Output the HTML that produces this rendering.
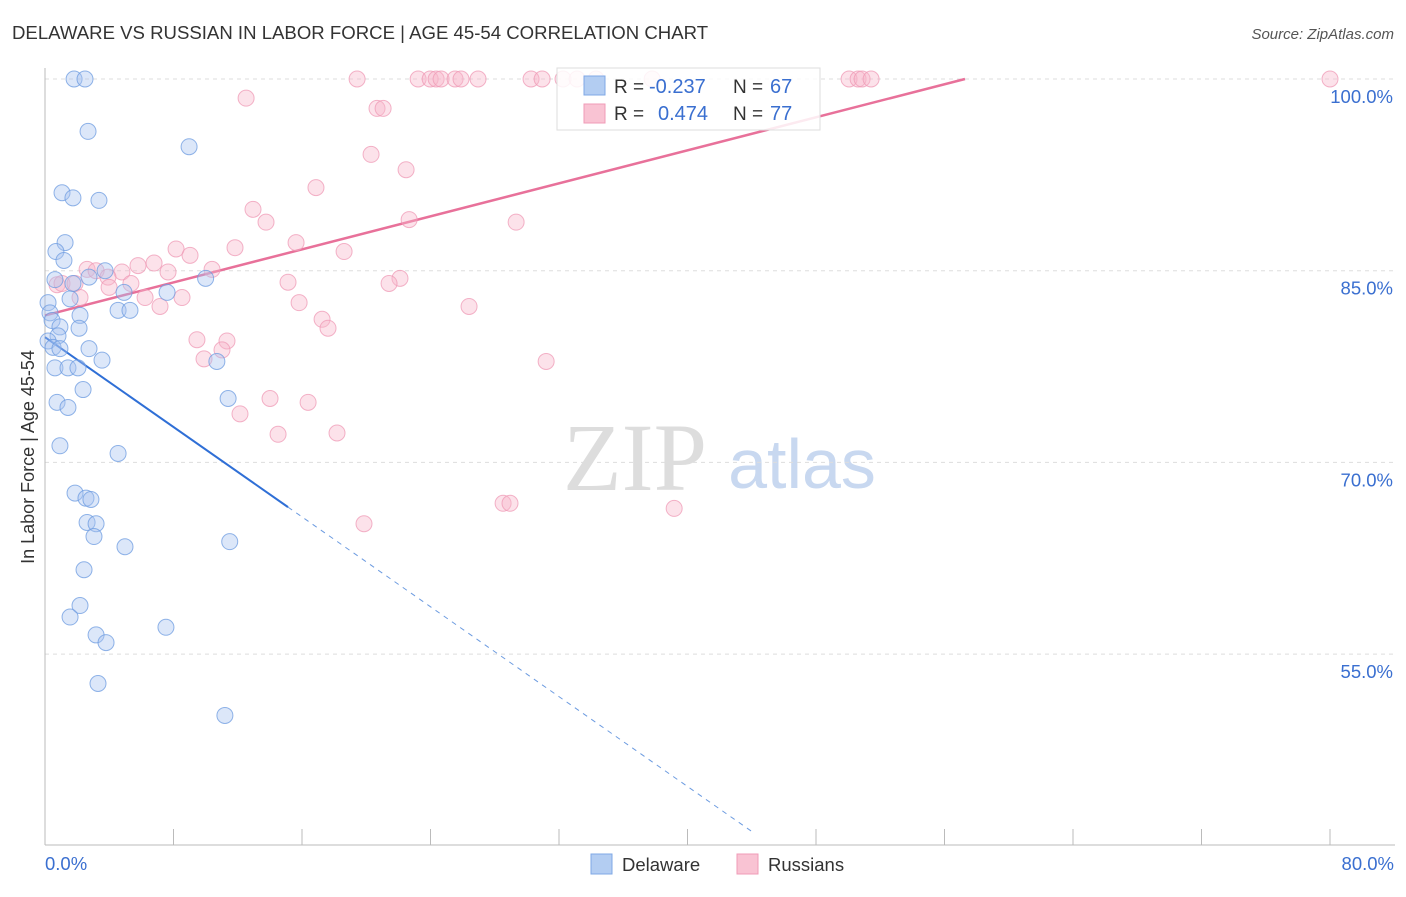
<!DOCTYPE html>
<html><head><meta charset="utf-8"><style>
body{margin:0;background:#fff;font-family:"Liberation Sans",sans-serif}
</style></head><body>
<svg id="chart" width="1406" height="892" xmlns="http://www.w3.org/2000/svg">
<text x="12" y="39" font-size="18.6" fill="#333">DELAWARE VS RUSSIAN IN LABOR FORCE | AGE 45-54 CORRELATION CHART</text>
<text x="1394" y="39" font-size="15" fill="#555" font-style="italic" text-anchor="end">Source: ZipAtlas.com</text>
<text x="34" y="457" font-size="18" fill="#333" text-anchor="middle" transform="rotate(-90 34 457)">In Labor Force | Age 45-54</text>
<g><text x="635" y="490" font-size="96" fill="#ddd" font-family="Liberation Serif,serif" text-anchor="middle">ZIP</text><text x="802" y="488" font-size="70" fill="#c8d8f0" text-anchor="middle">atlas</text></g>
<g id="grid"></g><g id="axes"></g><g id="lines"></g><g id="pts"></g>
<g>
<rect x="557" y="68" width="263" height="62" fill="#fff" fill-opacity="0.85" stroke="#ddd"/>
<rect x="584" y="76" width="21" height="19" fill="#b3cdf2" stroke="#7fa8e6"/>
<rect x="584" y="104" width="21" height="19" fill="#f9c3d3" stroke="#f09bb7"/>
<text x="614" y="93" font-size="19" fill="#333">R = </text><text x="649" y="93" font-size="20" fill="#3a6fd0">-0.237</text>
<text x="733" y="93" font-size="19" fill="#333">N = </text><text x="770" y="93" font-size="20" fill="#3a6fd0">67</text>
<text x="614" y="120" font-size="19" fill="#333">R = </text><text x="658" y="120" font-size="20" fill="#3a6fd0">0.474</text>
<text x="733" y="120" font-size="19" fill="#333">N = </text><text x="770" y="120" font-size="20" fill="#3a6fd0">77</text>
</g>
<g>
<rect x="591" y="854" width="21" height="20" fill="#b3cdf2" stroke="#7fa8e6"/>
<text x="622" y="871" font-size="18.5" fill="#333">Delaware</text>
<rect x="737" y="854" width="21" height="20" fill="#f9c3d3" stroke="#f09bb7"/>
<text x="768" y="871" font-size="18.5" fill="#333">Russians</text>
</g>
</svg>
<script>
const yTicks=[100,85,70,55];
const yTickLabels=["100.0%","85.0%","70.0%","55.0%"];
const xTicks=[0,8,16,24,32,40,48,56,64,72,80];
const blueX=[1.81,2.49,2.68,8.97,1.06,1.74,3.36,1.25,0.68,1.18,3.74,2.74,0.62,1.74,10.0,4.92,7.6,1.56,0.19,4.55,5.29,0.31,2.18,0.44,0.93,2.12,0.81,0.19,0.5,2.74,0.93,3.55,10.7,0.62,1.43,2.05,2.37,0.75,1.43,11.4,0.93,4.55,1.87,2.55,2.86,2.62,3.18,3.05,4.98,11.5,2.43,2.18,1.56,7.53,3.18,3.8,3.3,11.2];
const blueY=[100,100,95.9,94.7,91.1,90.7,90.5,87.2,86.5,85.8,85.0,84.5,84.3,84.0,84.4,83.3,83.3,82.8,82.5,81.9,81.9,81.7,81.5,81.1,80.6,80.5,79.9,79.5,79.0,78.9,78.9,78.0,77.9,77.4,77.4,77.4,75.7,74.7,74.3,75.0,71.3,70.7,67.6,67.2,67.1,65.3,65.2,64.2,63.4,63.8,61.6,58.8,57.9,57.1,56.5,55.9,52.7,50.2];
const pinkX=[19.43,23.23,23.98,24.35,24.66,25.53,25.9,26.96,30.26,30.95,32.25,33.13,34.31,37.8,50.06,50.62,50.87,51.43,80,12.52,20.67,21.05,20.3,22.48,16.87,12.95,13.76,22.67,29.33,15.63,11.83,18.62,8.16,9.03,6.79,5.79,7.66,10.4,2.62,3.18,4.79,3.92,5.35,15.13,22.1,21.42,0.75,1.06,1.87,3.99,2.18,6.23,8.53,7.16,15.82,26.4,17.25,17.62,9.46,11.33,11.02,9.9,31.2,14.01,16.38,12.14,14.51,18.18,28.52,28.95,39.17,19.86];
const pinkY=[100,100,100,100,100,100,100,100,100,100,100,100,100,100,100,100,100,100,100,98.5,97.7,97.7,94.1,92.9,91.5,89.8,88.8,89.0,88.8,87.2,86.8,86.5,86.7,86.2,85.6,85.4,84.9,85.1,85.1,85.0,84.9,84.5,84.0,84.1,84.4,84.0,83.9,84.0,84.0,83.7,82.9,82.9,82.9,82.2,82.5,82.2,81.2,80.5,79.6,79.5,78.8,78.1,77.9,75.0,74.7,73.8,72.2,72.3,66.8,66.8,66.4,65.2];
const blueFit=[79.8,-0.879];
const pinkFit=[81.5,0.323];
const X=v=>45+v*(1285/80);
const Y=v=>79+(100-v)*12.78;
const NS="http://www.w3.org/2000/svg";
function mk(t,a,p){const e=document.createElementNS(NS,t);for(const k in a)e.setAttribute(k,a[k]);p.appendChild(e);return e;}
const grid=document.getElementById('grid'),axes=document.getElementById('axes'),lines=document.getElementById('lines'),pts=document.getElementById('pts');
yTicks.forEach((t,i)=>{
 const l=mk('line',{x1:45,x2:1395,y1:Y(t),y2:Y(t),stroke:'#ddd','stroke-dasharray':'4,4'},grid);
 
 
 const tx=mk('text',{x:1393,y:Y(t)+24,'font-size':18.5,fill:'#3a6fd0','text-anchor':'end'},grid);
 tx.textContent=yTickLabels[i];
 
 
});
const ya=mk('line',{x1:45,x2:45,y1:68,y2:845,stroke:'#bbb'},axes);


const xa=mk('line',{x1:45,x2:1395,y1:845,y2:845,stroke:'#bbb'},axes);


xTicks.forEach(t=>{
 const k=mk('line',{x1:X(t),x2:X(t),y1:829,y2:845,stroke:'#bbb'},axes);
 
 
});
[[0,"0.0%","start",45],[80,"80.0%","end",1394]].forEach(d=>{
 const tx=mk('text',{x:d[3],y:870,'font-size':18.5,fill:'#3a6fd0','text-anchor':d[2]},axes);
 tx.textContent=d[1];
 
 
});
function addPts(xs,ys,fill,stroke,name){
 xs.forEach((x,i)=>{
  const c=mk('circle',{cx:X(x),cy:Y(ys[i]),r:8,fill:fill,'fill-opacity':0.4,stroke:stroke,'stroke-opacity':0.75,'stroke-width':1},pts);
  
  
 });
}
addPts(pinkX,pinkY,'#f7b6ca','#ef9ab6','russians-point');
addPts(blueX,blueY,'#a7c4ef','#6c9be0','delaware-point');
const bEnd=15.13,bDash=44;
const b1=mk('line',{x1:X(0),y1:Y(blueFit[0]),x2:X(bEnd),y2:Y(blueFit[0]+blueFit[1]*bEnd),stroke:'#2f6fd6','stroke-width':2},lines);


const b2=mk('line',{x1:X(bEnd),y1:Y(blueFit[0]+blueFit[1]*bEnd),x2:X(bDash),y2:Y(blueFit[0]+blueFit[1]*bDash),stroke:'#6c9be0','stroke-width':1,'stroke-dasharray':'5,5'},lines);


const pEnd=(100-pinkFit[0])/pinkFit[1];
const p1=mk('line',{x1:X(0),y1:Y(pinkFit[0]),x2:X(pEnd),y2:Y(100),stroke:'#e8719a','stroke-width':2.5},lines);


</script>
</body></html>
